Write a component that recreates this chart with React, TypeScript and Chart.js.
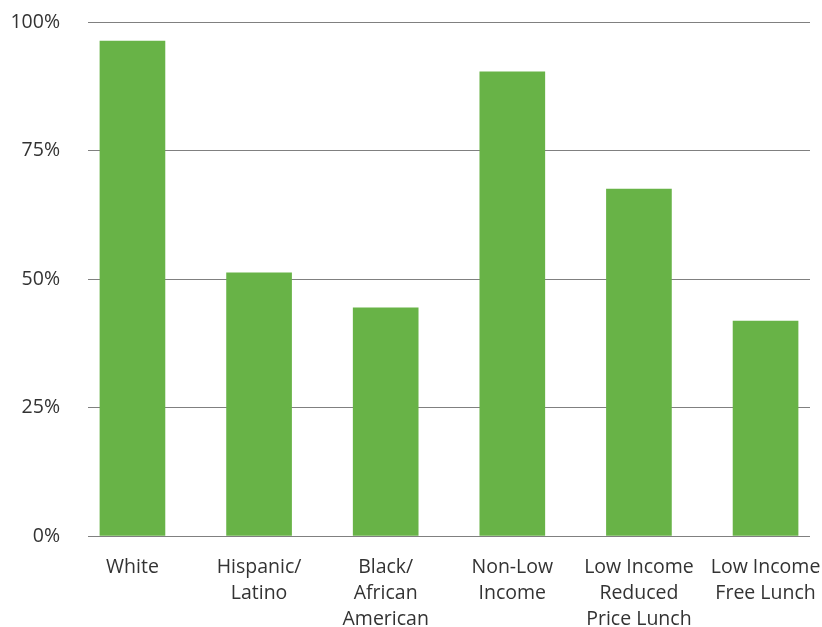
import React, { useEffect, useRef } from "react";
import { Chart, registerables } from "chart.js";

Chart.register(...registerables);

const categories: string[][] = [
  ["White"],
  ["Hispanic/", "Latino"],
  ["Black/", "African", "American"],
  ["Non-Low", "Income"],
  ["Low Income", "Reduced", "Price Lunch"],
  ["Low Income", "Free Lunch"],
];
const values: number[] = [96.3, 51.2, 44.4, 90.3, 67.5, 41.8];
const yTicks: number[] = [0, 25, 50, 75, 100];

const FONT = "'Open Sans', sans-serif";

export default function App() {
  const ref = useRef<HTMLCanvasElement | null>(null);
  useEffect(() => {
    document.body.style.margin = "0";
    const ctx = ref.current!;
    const chart = new Chart(ctx, {
      type: "bar",
      data: {
        datasets: [
          {
            data: values.map((v, i) => ({ x: i, y: v })),
            backgroundColor: "#68b347",
            barThickness: 65,
          },
        ],
      },
      options: {
        animation: false,
        responsive: false,
        layout: { padding: { left: 10, right: 12, top: 22, bottom: 0 } },
        plugins: { legend: { display: false }, tooltip: { enabled: false } },
        scales: {
          x: {
            type: "linear",
            offset: false,
            min: -0.351,
            max: 5.351,
            afterBuildTicks: (s: any) => {
              s.ticks = categories.map((_, i) => ({ value: i }));
            },
            afterFit: (s: any) => {
              s.paddingLeft = 0;
              s.paddingRight = 0;
              s.height = 91;
            },
            grid: { display: false, drawTicks: false },
            border: { display: false },
            ticks: {
              autoSkip: false,
              maxRotation: 0,
              padding: 18,
              color: "#333333",
              font: { family: FONT, size: 19.5, lineHeight: 1.333 },
              callback: (v: any) => categories[Math.round(Number(v))] ?? "",
            },
          },
          y: {
            min: 0,
            max: 100,
            afterBuildTicks: (s: any) => {
              s.ticks = yTicks.map((v) => ({ value: v }));
            },
            afterFit: (s: any) => {
              s.paddingTop = 0;
              s.paddingBottom = 0;
              s.width = 78;
            },
            grid: { color: "#808080", lineWidth: 1, drawTicks: false },
            border: { display: false },
            ticks: {
              padding: 28,
              color: "#333333",
              font: { family: FONT, size: 19.5 },
              callback: (v: any) => v + "%",
            },
          },
        },
      },
    });
    return () => chart.destroy();
  }, []);
  return <canvas ref={ref} width={822} height={627} style={{ display: "block" }} />;
}
